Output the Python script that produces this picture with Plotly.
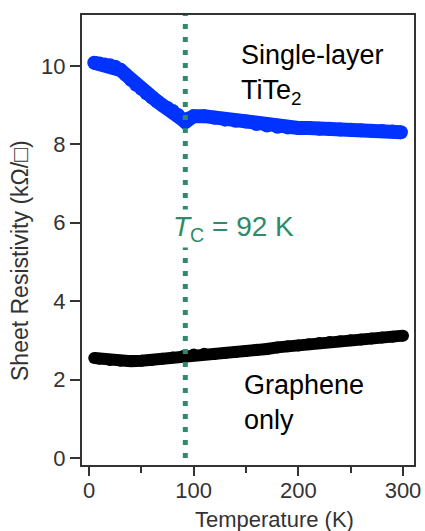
import plotly.graph_objects as go

# TiTe2 single layer (blue)
t_tite2 = [5, 10, 15, 20, 25, 30, 35, 40, 45, 50, 55, 60, 65, 70, 75, 80, 85, 90, 92, 95,
           100, 110, 120, 130, 140, 150, 160, 170, 180, 190, 200, 210, 220, 230, 240, 250,
           260, 270, 280, 290, 298]
r_tite2 = [10.08, 10.06, 10.04, 10.02, 9.98, 9.9, 9.78, 9.65, 9.52, 9.42, 9.3, 9.2, 9.1,
           9.0, 8.93, 8.85, 8.75, 8.62, 8.57, 8.66, 8.72, 8.72, 8.68, 8.63, 8.6, 8.58, 8.52,
           8.48, 8.45, 8.43, 8.42, 8.42, 8.4, 8.4, 8.38, 8.37, 8.36, 8.35, 8.34, 8.33, 8.31]

# Graphene only (black)
t_gr = [5, 10, 20, 30, 40, 50, 60, 70, 80, 90, 100, 110, 120, 130, 140, 150, 160, 170, 180,
        190, 200, 210, 220, 230, 240, 250, 260, 270, 280, 290, 300]
r_gr = [2.55, 2.53, 2.5, 2.48, 2.47, 2.48, 2.5, 2.53, 2.56, 2.6, 2.64, 2.66, 2.65, 2.68, 2.7,
        2.73, 2.76, 2.78, 2.82, 2.85, 2.87, 2.9, 2.93, 2.96, 2.98, 3.0, 3.02, 3.05, 3.07,
        3.09, 3.12]

tc = 92
x_ticks = [0, 100, 200, 300]
y_ticks = [0, 2, 4, 6, 8, 10]

FONT = "Liberation Sans, Arial, sans-serif"
GREEN = "#2e8b67"
BLUE = "#0033ff"

fig = go.Figure()
fig.add_trace(go.Scatter(x=t_tite2, y=r_tite2, mode="lines+markers",
                         line=dict(color=BLUE, width=14),
                         marker=dict(color=BLUE, size=14), hoverinfo="skip"))
fig.add_trace(go.Scatter(x=t_gr, y=r_gr, mode="lines+markers",
                         line=dict(color="black", width=12),
                         marker=dict(color="black", size=12), hoverinfo="skip"))

fig.add_shape(type="line", x0=tc, x1=tc, y0=0, y1=11.3, xref="x", yref="y",
              line=dict(color=GREEN, width=5, dash="5px,8px"), layer="above")

# page pixel -> paper coords (plot area spans page x 82..414, y 15..465)
def px_x(p):
    return (p - 82) / 332

def px_y(p):
    return 1 - (p - 15) / 450

annots = [
    dict(x=239, y=75, text="Single-layer<br>TiTe<sub>2</sub>", color="black", size=27),
    dict(x=242, y=402, text="Graphene<br>only", color="black", size=27),
]
for a in annots:
    fig.add_annotation(x=px_x(a["x"]), y=px_y(a["y"]),
                       xref="paper", yref="paper", xanchor="left", yanchor="middle",
                       align="left", showarrow=False, text=a["text"],
                       font=dict(family=FONT, size=a["size"], color=a["color"]))

fig.add_annotation(x=px_x(171), y=px_y(228), xref="paper", yref="paper",
                   xanchor="left", yanchor="middle", showarrow=False,
                   text="<i>T</i><sub>C</sub> = 92 K", bgcolor="white",
                   font=dict(family=FONT, size=28, color=GREEN))

fig.add_annotation(x=px_x(274), y=px_y(519), xref="paper", yref="paper",
                   xanchor="center", yanchor="middle", showarrow=False,
                   text="Temperature (K)", font=dict(family=FONT, size=22, color="#333"))
fig.add_annotation(x=px_x(20), y=px_y(261), xref="paper", yref="paper",
                   xanchor="center", yanchor="middle", showarrow=False, textangle=-90,
                   text="Sheet Resistivity (kΩ/□)", font=dict(family=FONT, size=23, color="#333"))

fig.update_layout(
    width=425, height=531,
    margin=dict(l=82, r=11, t=15, b=66),
    paper_bgcolor="white", plot_bgcolor="white",
    showlegend=False,
    font=dict(family=FONT, size=23, color="#333"),
)
fig.update_xaxes(range=[-6.7, 310.5], tickvals=x_ticks, ticks="outside", ticklen=9,
                 tickwidth=2, tickcolor="#333", showline=True, linecolor="#333", linewidth=2,
                 mirror=True, showgrid=False, zeroline=False, automargin=False,
                 tickfont=dict(size=22), ticklabelstandoff=-4,
                 minor=dict(tickvals=[50, 150, 250], ticks="outside", ticklen=6,
                            tickwidth=2, tickcolor="#333"))
fig.update_yaxes(range=[-0.18, 11.3], tickvals=y_ticks, ticks="outside", ticklen=10,
                 tickwidth=2, tickcolor="#333", showline=True, linecolor="#333", linewidth=2,
                 mirror=True, showgrid=False, zeroline=False, automargin=False,
                 tickfont=dict(size=22))

# remove the default page margin so the figure fills the window exactly
fig.write_html("out.html", config={"displayModeBar": False},
               post_script="document.body.style.margin='0px';"
                           "document.body.style.overflow='hidden';")
